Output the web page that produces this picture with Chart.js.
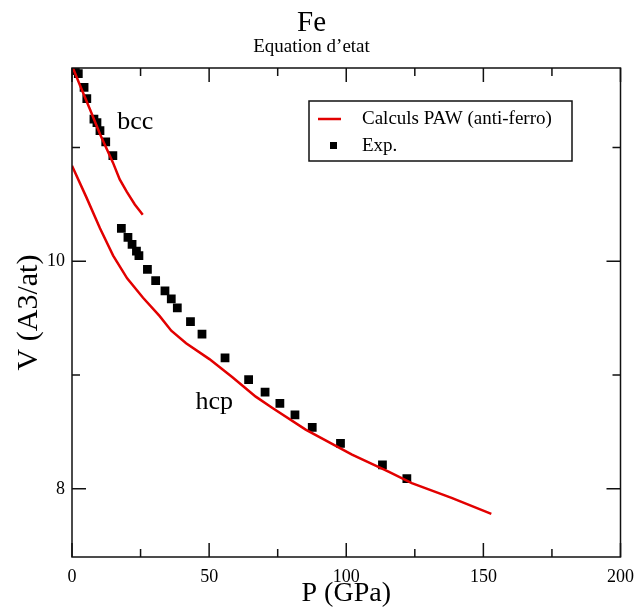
<!DOCTYPE html>
<html>
<head>
<meta charset="utf-8">
<script src="https://cdn.jsdelivr.net/npm/chart.js@4/dist/chart.umd.min.js"></script>
<style>
  html, body { margin: 0; padding: 0; background: #fff; }
  #wrap { width: 643px; height: 608px; }
</style>
</head>
<body>
<div id="wrap"><canvas id="c" width="643" height="608"></canvas></div>
<script>
// ---- Data ----
const chartTitle = "Fe";
const chartSubtitle = "Equation d\u2019etat";
const xTitle = "P (GPa)";
const yTitle = "V (A3/at)";
const legendLine = "Calculs PAW (anti-ferro)";
const legendExp = "Exp.";

// Calculated bcc branch (PAW)
const calcBccP = [0, 3.2, 6.5, 10.2, 14.9, 17.4, 20.0, 22.9, 25.8];
const calcBccV = [11.72, 11.53, 11.34, 11.12, 10.87, 10.72, 10.61, 10.50, 10.41];

// Calculated hcp branch (PAW)
const calcHcpP = [0, 5.3, 10.2, 15.0, 20.1, 25.9, 31.9, 36.2, 41.6, 50.1, 58.5, 67.0, 73.1, 85.2, 102.1, 115.4, 123.9, 138.4, 152.9];
const calcHcpV = [10.84, 10.56, 10.29, 10.05, 9.85, 9.68, 9.52, 9.39, 9.28, 9.14, 8.98, 8.81, 8.71, 8.52, 8.30, 8.15, 8.05, 7.92, 7.78];

// Experimental points
const expP = [0.3, 1.2, 2.3, 4.4, 5.4, 8.0, 9.1, 10.2, 12.3, 14.9,
              18.0, 20.4, 21.9, 23.5, 24.4, 27.5, 30.5, 33.9, 36.2, 38.4, 43.2, 47.4, 55.8,
              64.4, 70.4, 75.8, 81.3, 87.6, 97.9, 113.2, 122.1];
const expV = [11.68, 11.68, 11.65, 11.53, 11.43, 11.25, 11.22, 11.15, 11.05, 10.93,
              10.29, 10.21, 10.15, 10.09, 10.05, 9.93, 9.83, 9.74, 9.67, 9.59, 9.47, 9.36, 9.15,
              8.96, 8.85, 8.75, 8.65, 8.54, 8.40, 8.21, 8.09];

// Axis ranges and ticks
const xMin = 0, xMax = 200;
const yMin = 7.4, yMax = 11.7;
const xMajorTicks = [0, 50, 100, 150, 200];
const xMinorTicks = [25, 75, 125, 175];
const yMajorTicks = [8, 10];
const yMinorTicks = [9, 11];

// Phase annotations [text, P, V]
const phaseLabels = [["bcc", 16.5, 11.16], ["hcp", 45.0, 8.70]];

const toXY = (ps, vs) => ps.map((p, i) => ({x: p, y: vs[i]}));

const RED = 'rgb(226,0,0)';
const SERIF = "'Liberation Serif', 'Times New Roman', serif";

const framePlugin = {
  id: 'frame',
  afterDatasetsDraw(chart) {
    const {ctx, chartArea: a, scales} = chart;
    const xs = scales.x, ys = scales.y;
    ctx.save();
    ctx.strokeStyle = '#111';
    ctx.lineWidth = 1.5;
    ctx.strokeRect(a.left, a.top, a.right - a.left, a.bottom - a.top);
    const tick = (vals, len, horiz) => {
      vals.forEach(v => {
        ctx.beginPath();
        if (horiz) {
          const px = xs.getPixelForValue(v);
          ctx.moveTo(px, a.bottom); ctx.lineTo(px, a.bottom - len);
          ctx.moveTo(px, a.top); ctx.lineTo(px, a.top + len);
        } else {
          const py = ys.getPixelForValue(v);
          ctx.moveTo(a.left, py); ctx.lineTo(a.left + len, py);
          ctx.moveTo(a.right, py); ctx.lineTo(a.right - len, py);
        }
        ctx.stroke();
      });
    };
    tick(xMajorTicks, 14, true);
    tick(xMinorTicks, 8, true);
    tick(yMajorTicks, 14, false);
    tick(yMinorTicks, 8, false);

    // phase labels
    ctx.fillStyle = '#000';
    ctx.font = "26px " + SERIF;
    ctx.textBaseline = 'alphabetic';
    ctx.textAlign = 'left';
    phaseLabels.forEach(([t, p, v]) => {
      ctx.fillText(t, xs.getPixelForValue(p), ys.getPixelForValue(v));
    });

    // legend box
    const lx = 309, ly = 101, lw = 263, lh = 60;
    ctx.fillStyle = '#fff';
    ctx.fillRect(lx, ly, lw, lh);
    ctx.strokeStyle = '#111';
    ctx.lineWidth = 1.5;
    ctx.strokeRect(lx, ly, lw, lh);
    ctx.strokeStyle = RED;
    ctx.lineWidth = 2.5;
    ctx.beginPath();
    ctx.moveTo(lx + 9, ly + 18); ctx.lineTo(lx + 32, ly + 18);
    ctx.stroke();
    ctx.fillStyle = '#000';
    ctx.fillRect(lx + 21, ly + 41, 7, 7);
    ctx.font = "19px " + SERIF;
    ctx.textBaseline = 'middle';
    ctx.fillText(legendLine, lx + 53, ly + 18);
    ctx.fillText(legendExp, lx + 53, ly + 45);
    ctx.restore();
  }
};

new Chart(document.getElementById('c'), {
  type: 'scatter',
  data: {
    datasets: [
      {
        label: legendLine,
        data: toXY(calcBccP, calcBccV),
        showLine: true,
        borderColor: RED,
        borderWidth: 2.5,
        pointRadius: 0,
        tension: 0
      },
      {
        label: legendLine,
        data: toXY(calcHcpP, calcHcpV),
        showLine: true,
        borderColor: RED,
        borderWidth: 2.5,
        pointRadius: 0,
        tension: 0
      },
      {
        label: legendExp,
        data: toXY(expP, expV),
        showLine: false,
        pointStyle: 'rect',
        pointRadius: 6.2,
        pointBackgroundColor: '#000',
        pointBorderColor: '#000',
        pointBorderWidth: 0
      }
    ]
  },
  options: {
    responsive: false,
    animation: false,
    layout: { padding: { left: 0, right: 20, top: 0, bottom: 0 } },
    plugins: {
      legend: { display: false },
      tooltip: { enabled: false },
      title: {
        display: true,
        text: chartTitle,
        color: '#000',
        font: { family: SERIF, size: 29, weight: 'normal', lineHeight: 1.0 },
        padding: { top: 9, bottom: 0 }
      },
      subtitle: {
        display: true,
        text: chartSubtitle,
        color: '#000',
        font: { family: SERIF, size: 19, weight: 'normal', lineHeight: 1.0 },
        padding: { top: 0, bottom: 11 }
      }
    },
    scales: {
      x: {
        type: 'linear',
        min: xMin, max: xMax,
        afterBuildTicks: s => { s.ticks = xMajorTicks.map(v => ({value: v})); },
        afterFit: s => { s.height = 51; },
        grid: { display: false, drawTicks: false },
        border: { display: false },
        ticks: { color: '#000', padding: 9, font: { family: SERIF, size: 18 }, maxRotation: 0 },
        title: {
          display: true, text: xTitle, color: '#000',
          font: { family: SERIF, size: 28, lineHeight: 1.0 },
          padding: { top: 0, bottom: 0 }
        }
      },
      y: {
        type: 'linear',
        min: yMin, max: yMax,
        afterBuildTicks: s => { s.ticks = yMajorTicks.map(v => ({value: v})); },
        afterFit: s => { s.width = 72; },
        grid: { display: false, drawTicks: false },
        border: { display: false },
        ticks: { color: '#000', padding: 7, font: { family: SERIF, size: 18 } },
        title: {
          display: true, text: yTitle, color: '#000',
          font: { family: SERIF, size: 30, lineHeight: 1.0 },
          padding: { top: 14, bottom: 0 }
        }
      }
    }
  },
  plugins: [framePlugin]
});
</script>
</body>
</html>
